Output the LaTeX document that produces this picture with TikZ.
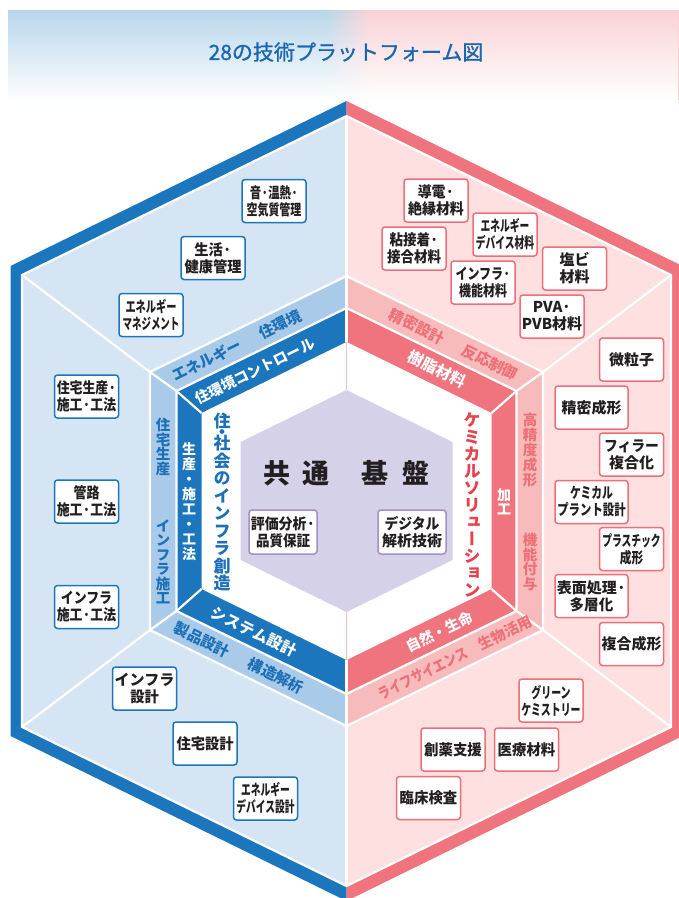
\documentclass[tikz,border=0pt]{standalone}
\usepackage{fontspec}
\usepackage{graphicx}
\setmainfont{Noto Sans CJK JP}
\newfontfamily\jpv{Noto Sans CJK JP}[RawFeature=+vert]
\newfontfamily\jpmed{Noto Sans CJK JP}[FakeBold=1.2]
\usetikzlibrary{fadings}
\definecolor{dblue}{HTML}{1B76BD}
\definecolor{lblue}{HTML}{D5E5F4}
\definecolor{mblue}{HTML}{A9CAE8}
\definecolor{dpink}{HTML}{F0747E}
\definecolor{lpink}{HTML}{FDE0DF}
\definecolor{mpink}{HTML}{F8BBBB}
\definecolor{purp}{HTML}{D4D1E8}
\definecolor{purpb}{HTML}{A58FC8}
\definecolor{tblue}{HTML}{B8D7EB}
\definecolor{tpink}{HTML}{FAD3D6}
\definecolor{titlec}{HTML}{1A66B0}
\definecolor{btxt}{HTML}{1B70B8}
\definecolor{ptxt}{HTML}{EE6F78}
\definecolor{rtxt}{HTML}{E9404E}
\definecolor{ktxt}{HTML}{231F20}
\definecolor{bbord}{HTML}{1B76BD}
\definecolor{pbord}{HTML}{EE6F78}
\tikzfading[name=fadedown, top color=transparent!100, middle color=transparent!85, bottom color=transparent!0]
\newcommand{\myhex}[3]{(346.5,{501-#3}) -- ({346.5+#1},{501-#2}) -- ({346.5+#1},{501+#2}) -- (346.5,{501+#3}) -- ({346.5-#1},{501+#2}) -- ({346.5-#1},{501-#2}) -- cycle}
\newcommand{\fz}[1]{\fontsize{#1}{17}\selectfont\bfseries}
\newcommand{\vf}[2]{\jpv\fontsize{#1}{#2}\selectfont\bfseries}
\newcommand{\nx}[2]{\scalebox{#1}[1]{#2}}
\tikzset{
  wline/.style={draw=white, line width=2.2},
  bx/.style={fill=white, rounded corners=3, line width=1.5, minimum width=64, minimum height=43, inner sep=0pt, align=center, text=ktxt},
  bb/.style={bx, draw=bbord},
  pb/.style={bx, draw=pbord},
  cb/.style={bx, draw=purpb, minimum width=68, minimum height=44},
  vt/.style={inner sep=0pt, align=center},
  rt/.style={inner sep=0pt, font=\fz{15}},
}
\begin{document}
\begin{tikzpicture}[x=1pt,y=-1pt]
\useasboundingbox (0,0) rectangle (679,898);
% title band
\fill[tblue] (8,10) rectangle (325,100);
\fill[tpink] (370,10) rectangle (679,100);
\shade[left color=tblue, right color=tpink] (324.5,10) rectangle (370.5,100);
\fill[white, path fading=fadedown] (8,10) rectangle (679,101);
\node[font=\jpmed\fontsize{21}{21}\selectfont, text=titlec] (title) at (346,52) {28の技術プラットフォーム図};
% left half
\begin{scope}
\clip (0,0) rectangle (346.5,898);
\fill[dblue] \myhex{336}{235}{400};
\fill[lblue] \myhex{324.5}{226}{385};
\fill[mblue] \myhex{196.5}{129}{225};
\fill[dblue] \myhex{170}{110}{193};
\fill[white] \myhex{145}{88}{159};
\end{scope}
% right half
\begin{scope}
\clip (346.5,0) rectangle (679,898);
\fill[dpink] \myhex{336}{235}{400};
\fill[lpink] \myhex{324.5}{226}{385};
\fill[mpink] \myhex{196.5}{129}{225};
\fill[dpink] \myhex{170}{110}{193};
\fill[white] \myhex{145}{88}{159};
\end{scope}
% white dividers
\draw[wline] \myhex{324.5}{226}{385};
\draw[wline] \myhex{196.5}{129}{225};
\draw[wline] \myhex{170}{110}{193};
\draw[wline] (346.5,116) -- (346.5,342);
\draw[wline] (346.5,660) -- (346.5,886);
\foreach \sx in {-1,1} {\foreach \sy in {-1,1} {
  \draw[wline] ({346.5+\sx*324.5},{501+\sy*226}) -- ({346.5+\sx*196.5},{501+\sy*129}) -- ({346.5+\sx*170},{501+\sy*110}) -- ({346.5+\sx*145},{501+\sy*88});
}}
% center
\fill[purp] \myhex{106}{59}{111};
\node[inner sep=0pt, text=ktxt, font=\fontsize{27}{27}\selectfont\bfseries] (kiban) at (346.5,473) {共\hspace{13pt}通\hspace{32pt}基\hspace{14pt}盤};
\node[cb, font=\fz{15}] (c1) at (283,532) {\nx{.93}{評価分析·}\\\nx{.9}{品質保証}};
\node[cb, font=\fz{15}] (c2) at (412,532) {\nx{.92}{デジタル}\\解析技術};
% big vertical texts
\node[vt, text=btxt, font=\vf{17}{17.5}] (infra) at (222,502) {住\\[-7pt]・\\[-6pt]社\\会\\の\\イ\\ン\\フ\\ラ\\創\\造};
\node[vt, text=rtxt, font=\vf{17}{17}] (chem) at (472,505) {ケ\\ミ\\カ\\ル\\ソ\\リ\\ュ\\ー\\シ\\ョ\\ン};
% dark band texts
\node[rt, text=white, rotate=26, font=\fz{14.5}] (d1) at (255,371) {住環境コントロール};
\node[vt, text=white, font=\vf{14}{15}] (d2) at (189,502) {生\\産\\・\\施\\工\\・\\工\\法};
\node[rt, text=white, rotate=-26, font=\fz{15.5}] (d3) at (254,632) {システム設計};
\node[rt, text=white, rotate=-26, font=\fz{15.5}] (d4) at (437,369) {樹脂材料};
\node[vt, text=white, font=\vf{14}{14}] (d5) at (504,502) {加\\工};
\node[rt, text=white, rotate=26, font=\fz{14.5}] (d6) at (440,632) {自然・生命};
% light band texts
\node[rt, text=btxt, rotate=26] (l1) at (207,360) {エネルギー};
\node[rt, text=btxt, rotate=26] (l2) at (280,324.5) {住環境};
\node[vt, text=btxt, font=\vf{14.5}{14.75}] (l3) at (163,447) {住\\宅\\生\\産};
\node[vt, text=btxt, font=\vf{14.5}{14.5}] (l4) at (163,562) {イ\\ン\\フ\\ラ\\施\\工};
\node[rt, text=btxt, rotate=-26] (l5) at (202,639.5) {製品設計};
\node[rt, text=btxt, rotate=-26] (l6) at (276,675.6) {構造解析};
\node[rt, text=ptxt, rotate=-26] (l7) at (417,326.4) {精密設計};
\node[rt, text=ptxt, rotate=-26] (l8) at (490,362.1) {反応制御};
\node[vt, text=ptxt, font=\vf{14.5}{15}] (l9) at (530,450) {高\\精\\度\\成\\形};
\node[vt, text=ptxt, font=\vf{14.5}{14.75}] (l10) at (530,562) {機\\能\\付\\与};
\node[rt, text=ptxt, rotate=26] (l11) at (423,673.5) {\nx{.82}{ライフサイエンス}};
\node[rt, text=ptxt, rotate=26, font=\fz{14.5}] (l12) at (505,633) {生物活用};
% blue boxes
\node[bb, font=\fz{15}] (b1) at (274,201) {\nx{.76}{音·温熱·}\\\nx{.73}{空気質管理}};
\node[bb, font=\fz{15}] (b2) at (213,258) {\nx{.95}{生活·}\\\nx{.95}{健康管理}};
\node[bb, font=\fz{15}] (b3) at (151,315) {\nx{.68}{エネルギー}\\\nx{.63}{マネジメント}};
\node[bb, font=\fz{15}] (b4) at (86.5,396.5) {\nx{.86}{住宅生産·}\\\nx{.86}{施工·工法}};
\node[bb, font=\fz{15}] (b5) at (86.5,501.5) {\nx{.86}{管路}\\\nx{.86}{施工·工法}};
\node[bb, font=\fz{15}] (b6) at (86.5,607) {\nx{.86}{インフラ}\\\nx{.86}{施工·工法}};
\node[bb, font=\fz{15}] (b7) at (144.5,688.5) {インフラ\\\nx{.95}{設計}};
\node[bb, font=\fz{15}] (b8) at (205,743.5) {\nx{.95}{住宅設計}};
\node[bb, font=\fz{15}] (b9) at (265.5,798.5) {\nx{.65}{エネルギー}\\\nx{.65}{デバイス設計}};
% pink boxes
\node[pb, font=\fz{15}] (p1) at (436,200.5) {\nx{.93}{導電·}\\\nx{.93}{絶縁材料}};
\node[pb, font=\fz{15}] (p2) at (505,234.5) {\nx{.65}{エネルギー}\\\nx{.65}{デバイス材料}};
\node[pb, font=\fz{15}] (p3) at (414,248.5) {\nx{.9}{粘接着·}\\\nx{.9}{接合材料}};
\node[pb, font=\fz{15}] (p4) at (483,282.5) {\nx{.8}{インフラ·}\\\nx{.8}{機能材料}};
\node[pb, font=\fz{15}] (p5) at (574.5,268.5) {塩ビ\\材料};
\node[pb, font=\fz{15}] (p6) at (552,316.5) {PVA·\\PVB材料};
\node[pb, font=\fz{15}] (p7) at (631.5,359.5) {微粒子};
\node[pb, font=\fz{15}, minimum width=73] (p8) at (591.5,407.5) {精密成形};
\node[pb, font=\fz{15}] (p9) at (631.5,454.5) {\nx{.92}{フィラー}\\複合化};
\node[pb, font=\fz{15}, minimum width=73] (p10) at (591.5,502) {\nx{.72}{ケミカル}\\\nx{.76}{プラント設計}};
\node[pb, font=\fz{15}] (p11) at (631.5,549) {\nx{.65}{プラスチック}\\\nx{.78}{成形}};
\node[pb, font=\fz{15}, minimum width=73] (p12) at (591.5,596) {表面処理·\\\nx{.97}{多層化}};
\node[pb, font=\fz{15}] (p13) at (631.5,644) {複合成形};
\node[pb, font=\fz{15}] (p14) at (551,700.5) {\nx{.66}{グリーン}\\\nx{.66}{ケミストリー}};
\node[pb, font=\fz{15}] (p15) at (453,749.5) {\nx{.96}{創薬支援}};
\node[pb, font=\fz{15}] (p16) at (526.5,749.5) {\nx{.96}{医療材料}};
\node[pb, font=\fz{15}] (p17) at (428.5,798) {\nx{.96}{臨床検査}};
\end{tikzpicture}
\end{document}
